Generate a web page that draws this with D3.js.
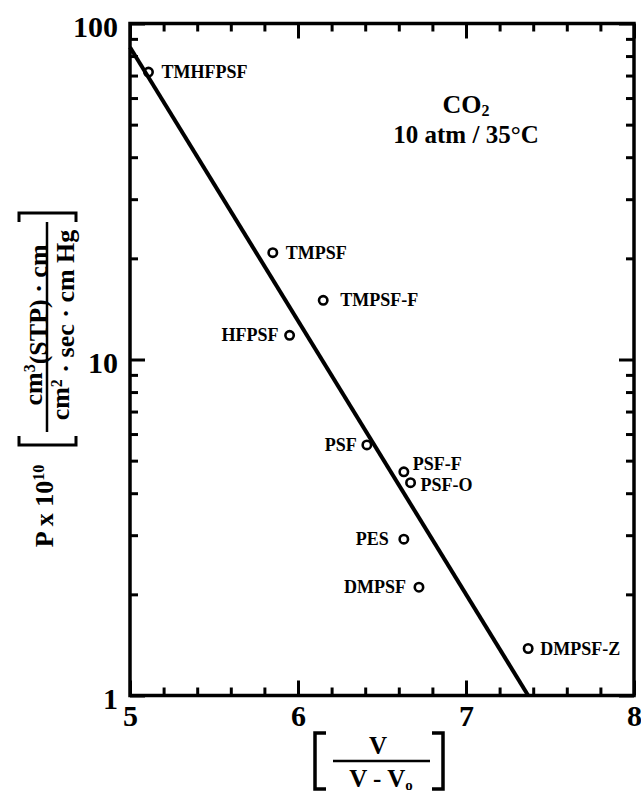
<!DOCTYPE html>
<html><head><meta charset="utf-8">
<script src="https://cdn.jsdelivr.net/npm/d3@7"></script>
<style>
body{margin:0;background:#fff}
svg{display:block}
text{font-family:"Liberation Serif","Times New Roman",serif;font-weight:bold;fill:#000}
</style>
</head><body><svg id="c" width="641" height="792"></svg>
<script>
// ---- data ----
const polymers = ["TMHFPSF","TMPSF","TMPSF-F","HFPSF","PSF","PSF-F","PSF-O","PES","DMPSF","DMPSF-Z"];
const vRatio = [5.11, 5.85, 6.15, 5.95, 6.41, 6.63, 6.67, 6.63, 6.72, 7.37];
const permeability = [71.7, 20.8, 15.0, 11.8, 5.57, 4.63, 4.30, 2.92, 2.10, 1.38];
const fitVRatio = [5.0, 7.37];
const fitPermeability = [85.0, 1.0];
const xTickLabels = [5, 6, 7, 8];
const yTickLabels = [1, 10, 100];
const gasText = ["CO", "2"];
const conditionText = "10 atm / 35°C";

// ---- layout (label placement per point) ----
const labelPlace = {
  "TMHFPSF": {dx: 13, dy: 6, anchor: "start"},
  "TMPSF":   {dx: 13, dy: 6, anchor: "start"},
  "TMPSF-F": {dx: 17, dy: 6, anchor: "start"},
  "HFPSF":   {dx: -11, dy: 6, anchor: "end"},
  "PSF":     {dx: -10, dy: 6, anchor: "end"},
  "PSF-F":   {dx: 9, dy: -2, anchor: "start"},
  "PSF-O":   {dx: 10, dy: 8, anchor: "start"},
  "PES":     {dx: -15, dy: 6, anchor: "end"},
  "DMPSF":   {dx: -13, dy: 6, anchor: "end"},
  "DMPSF-Z": {dx: 12, dy: 6, anchor: "start"}
};

const svg = d3.select("#c");
const L = 130, R = 634, T = 23.5, B = 695.5;
const x = d3.scaleLinear().domain([5, 8]).range([L, R]);
const y = d3.scaleLog().domain([1, 100]).range([B, T]);

const xMinor = d3.range(50, 81, 2).map(v => v / 10).filter(v => v % 1 !== 0);
const yMinor = [];
[1, 10].forEach(d => { for (let k = 2; k <= 9; k++) yMinor.push(k * d); });

function styleAxis(g, fs) {
  g.select(".domain").remove();
  g.selectAll(".tick line").attr("stroke", "#000").attr("stroke-width", 3);
  g.selectAll(".tick text").attr("font-size", fs).attr("font-family", null).attr("fill", "#000");
}

// minor ticks on all four sides
svg.append("g").attr("transform", `translate(0,${B})`)
  .call(d3.axisBottom(x).tickValues(xMinor).tickSize(-8).tickFormat("")).call(g => styleAxis(g));
svg.append("g").attr("transform", `translate(0,${T})`)
  .call(d3.axisTop(x).tickValues(xMinor).tickSize(-8).tickFormat("")).call(g => styleAxis(g));
svg.append("g").attr("transform", `translate(${L},0)`)
  .call(d3.axisLeft(y).tickValues(yMinor).tickSize(-8).tickFormat("")).call(g => styleAxis(g));
svg.append("g").attr("transform", `translate(${R},0)`)
  .call(d3.axisRight(y).tickValues(yMinor).tickSize(-8).tickFormat("")).call(g => styleAxis(g));

// major ticks with labels
svg.append("g").attr("transform", `translate(0,${B})`)
  .call(d3.axisBottom(x).tickValues(xTickLabels).tickSize(-15).tickPadding(9).tickFormat(d3.format("d")))
  .call(g => styleAxis(g, 30));
svg.append("g").attr("transform", `translate(0,${T})`)
  .call(d3.axisTop(x).tickValues(xTickLabels).tickSize(-15).tickFormat("")).call(g => styleAxis(g));
svg.append("g").attr("transform", `translate(${L},0)`)
  .call(d3.axisLeft(y).tickValues(yTickLabels).tickSize(-15).tickPadding(12).tickFormat(d3.format("d")))
  .call(g => { styleAxis(g, 30); g.selectAll(".tick text").attr("dy", "0.42em"); });
svg.append("g").attr("transform", `translate(${R},0)`)
  .call(d3.axisRight(y).tickValues(yTickLabels).tickSize(-15).tickFormat("")).call(g => styleAxis(g));

// frame
svg.append("rect").attr("x", L).attr("y", T).attr("width", R - L).attr("height", B - T)
  .attr("fill", "none").attr("stroke", "#000").attr("stroke-width", 3.5);

// fit line
const fit = fitVRatio.map((v, i) => [v, fitPermeability[i]]);
svg.append("path").datum(fit)
  .attr("d", d3.line().x(d => x(d[0])).y(d => y(d[1])))
  .attr("stroke", "#000").attr("stroke-width", 4).attr("fill", "none");

// points
const pts = polymers.map((n, i) => ({name: n, v: vRatio[i], p: permeability[i]}));
svg.append("g").selectAll("circle").data(pts).join("circle")
  .attr("cx", d => x(d.v)).attr("cy", d => y(d.p)).attr("r", 4.2)
  .attr("fill", "none").attr("stroke", "#000").attr("stroke-width", 2.6);
svg.append("g").selectAll("text").data(pts).join("text")
  .attr("x", d => x(d.v) + labelPlace[d.name].dx)
  .attr("y", d => y(d.p) + labelPlace[d.name].dy)
  .attr("text-anchor", d => labelPlace[d.name].anchor)
  .attr("font-size", 18).text(d => d.name);

// annotation
const co = svg.append("text").attr("x", 466).attr("y", 113).attr("text-anchor", "middle").attr("font-size", 26);
co.append("tspan").text(gasText[0]);
co.append("tspan").attr("dy", "0.2em").attr("font-size", 16).text(gasText[1]);
svg.append("text").attr("x", 466).attr("y", 143).attr("text-anchor", "middle").attr("font-size", 25).text(conditionText);

// y-axis label
const yl = svg.append("g");
const pt = yl.append("text").attr("transform", "translate(53,506) rotate(-90)").attr("text-anchor", "middle").attr("font-size", 26);
pt.append("tspan").text("P x 10");
pt.append("tspan").attr("dy", "-0.55em").attr("font-size", 16).text("10");
const num = yl.append("text").attr("transform", "translate(42,325) rotate(-90)").attr("text-anchor", "middle").attr("font-size", 26);
num.append("tspan").text("cm");
num.append("tspan").attr("dy", "-0.45em").attr("font-size", 16).text("3");
num.append("tspan").attr("dy", "0.45em").text("(STP) · cm");
yl.append("line").attr("x1", 47).attr("x2", 47).attr("y1", 222).attr("y2", 432).attr("stroke", "#000").attr("stroke-width", 2.5);
const den = yl.append("text").attr("transform", "translate(69,325) rotate(-90)").attr("text-anchor", "middle").attr("font-size", 26);
den.append("tspan").text("cm");
den.append("tspan").attr("dy", "-0.45em").attr("font-size", 16).text("2");
den.append("tspan").attr("dy", "0.45em").text(" · sec · cm Hg");
yl.append("path").attr("d", "M19,436 V445 H76 V436").attr("fill", "none").attr("stroke", "#000").attr("stroke-width", 3);
yl.append("path").attr("d", "M19,222 V213 H76 V222").attr("fill", "none").attr("stroke", "#000").attr("stroke-width", 3);

// x-axis label
const xl = svg.append("g");
xl.append("path").attr("d", "M326,733 H315 V789 H326").attr("fill", "none").attr("stroke", "#000").attr("stroke-width", 3.5);
xl.append("path").attr("d", "M432,733 H443 V789 H432").attr("fill", "none").attr("stroke", "#000").attr("stroke-width", 3.5);
xl.append("text").attr("x", 378).attr("y", 754).attr("text-anchor", "middle").attr("font-size", 25).text("V");
xl.append("line").attr("x1", 333).attr("x2", 430).attr("y1", 761).attr("y2", 761).attr("stroke", "#000").attr("stroke-width", 2.5);
const dx = xl.append("text").attr("x", 381).attr("y", 787).attr("text-anchor", "middle").attr("font-size", 25);
dx.append("tspan").text("V  -  V");
dx.append("tspan").attr("dy", "0.2em").attr("font-size", 15).text("o");
</script>
</body></html>
